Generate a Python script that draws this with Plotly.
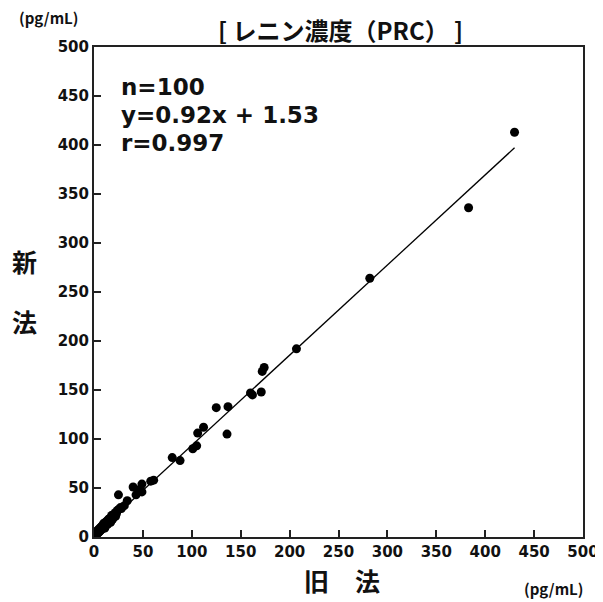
import plotly.graph_objects as go

# Old method (x) vs new method (y), pg/mL
old_method = [430, 383, 282, 207, 174, 172, 171, 162, 160, 137, 125, 136, 112, 106, 105, 101,
              88, 80, 61, 58, 49, 40, 45, 49, 43, 25, 34, 31, 28, 25,
              24, 23, 22, 21, 20, 20, 19, 18, 18, 17, 16, 16, 15, 15, 14, 14, 13, 13, 12, 12,
              12, 11, 11, 10, 10, 10, 9, 9, 9, 8, 8, 8, 7, 7, 7, 6, 6, 6, 5, 5,
              5, 5, 4, 4, 4, 4, 3, 3, 3, 3, 2, 2, 2, 2, 2, 1.5, 1.5, 1, 1, 1,
              1, 0.5, 0.5, 0.5, 22, 19, 17, 14, 11, 27]
new_method = [413, 336, 264, 192, 173, 169, 148, 145, 147, 133, 132, 105, 112, 106, 93, 90,
              78, 81, 58, 57, 54, 51, 48, 46, 43, 43, 37, 32, 29, 28,
              27, 24, 25, 22, 23, 20, 21, 19, 22, 18, 17, 19, 16, 18, 15, 17, 14, 16, 13, 15,
              12, 13, 11, 12, 10, 14, 11, 9, 12, 10, 8, 11, 9, 7, 10, 8, 6, 9, 7, 5,
              6, 8, 5, 7, 4, 6, 5, 3, 4, 6, 3, 4, 2, 5, 3, 2, 3, 2, 1, 3,
              1.5, 1, 0.5, 2, 21, 18, 15, 13, 9, 30]

slope = 0.92
intercept = 1.53
fit_x = [0, 430]
fit_y = [slope * v + intercept for v in fit_x]

tick_vals = [0, 50, 100, 150, 200, 250, 300, 350, 400, 450, 500]
tick_text = ["<b>%d</b>" % v for v in tick_vals]

stats_lines = ["n=100", "y=0.92x + 1.53", "r=0.997"]
title_text = "[ レニン濃度（PRC） ]"
x_label_chars = ["旧", "法"]
y_label_chars = ["新", "法"]
unit_text = "(pg/mL)"

latin = "DejaVu Sans"
cjk = "Noto Sans CJK JP"

fig = go.Figure()
fig.add_trace(go.Scatter(x=fit_x, y=fit_y, mode="lines",
                         line=dict(color="black", width=1.3), showlegend=False))
fig.add_trace(go.Scatter(x=old_method, y=new_method, mode="markers",
                         marker=dict(color="black", size=9), showlegend=False))

axis_common = dict(range=[0, 500], tickvals=tick_vals, ticktext=tick_text,
                   ticks="inside", ticklen=7, tickwidth=1.5, tickcolor="#222",
                   showline=True, linecolor="#222", linewidth=2, mirror=True,
                   showgrid=False, zeroline=False, automargin=False,
                   tickfont=dict(family=latin, size=15, color="#111"))
fig.update_xaxes(**axis_common)
fig.update_yaxes(**axis_common)

ann = []
for i, t in enumerate(stats_lines):
    ann.append(dict(x=0.051, y=0.918 - i * 0.057, xref="paper", yref="paper", text="<b>%s</b>" % t,
                    showarrow=False, xanchor="left", yanchor="middle",
                    font=dict(family=latin, size=23, color="#111")))
ann.append(dict(x=0.505, y=1.0, xref="paper", yref="paper", yshift=18, text="<b>%s</b>" % title_text,
                showarrow=False, xanchor="center", yanchor="middle",
                font=dict(family=cjk, size=24, color="#111")))
for i, ch in enumerate(y_label_chars):
    ann.append(dict(x=-0.143, y=0.563 - i * 0.122, xref="paper", yref="paper", text="<b>%s</b>" % ch,
                    showarrow=False, xanchor="center", yanchor="middle",
                    font=dict(family=cjk, size=25, color="#111")))
for i, ch in enumerate(x_label_chars):
    ann.append(dict(x=0.454 + i * 0.106, y=0, xref="paper", yref="paper", yshift=-43, text="<b>%s</b>" % ch,
                    showarrow=False, xanchor="center", yanchor="middle",
                    font=dict(family=cjk, size=25, color="#111")))
ann.append(dict(x=-0.094, y=1.0, xref="paper", yref="paper", yshift=30, text="<b>%s</b>" % unit_text,
                showarrow=False, xanchor="center", yanchor="middle",
                font=dict(family=cjk, size=15, color="#111")))
ann.append(dict(x=0.939, y=0, xref="paper", yref="paper", yshift=-51, text="<b>%s</b>" % unit_text,
                showarrow=False, xanchor="center", yanchor="middle",
                font=dict(family=cjk, size=15, color="#111")))

# page body has an 8px margin, so the figure is drawn 8px smaller and offset
fig.update_layout(width=595, height=594, margin=dict(l=86, r=20, t=39, b=65),
                  plot_bgcolor="white", paper_bgcolor="white", annotations=ann)

fig.write_html("out.html")
